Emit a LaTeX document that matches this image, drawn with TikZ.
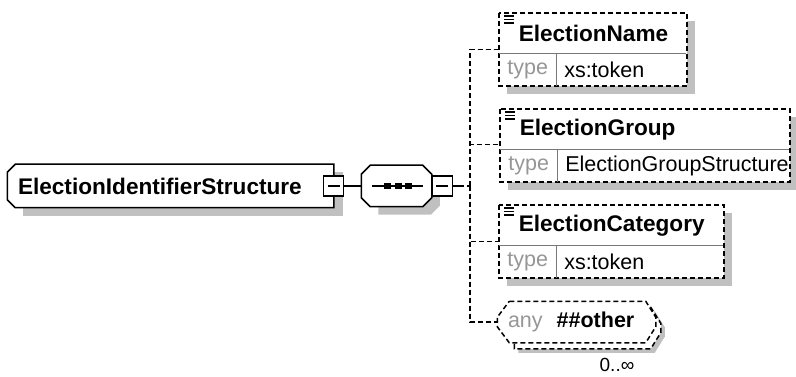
\documentclass[tikz,border=0pt]{standalone}
\usepackage{fontspec}
\setmainfont{Liberation Sans}
\usepackage{xcolor}
\definecolor{xsshade}{RGB}{192,192,192}
\definecolor{xsgray}{RGB}{150,150,150}
\definecolor{xsrule}{RGB}{120,120,120}
\usetikzlibrary{positioning, backgrounds}

\begin{document}
\begin{tikzpicture}[
    x=1pt, y=-1pt,
    line width=1.5pt,
    every node/.style={inner sep=0pt, font=\fontsize{21.5}{24}\selectfont},
    struct/.style={inner xsep=10pt, minimum height=42pt, text width=305pt, align=left, font=\fontsize{22.6}{24}\selectfont\bfseries},
    seqbox/.style={minimum width=69pt, minimum height=40pt},
    toggle/.style={draw, fill=white, minimum size=20pt, line width=1.4pt,
        path picture={\draw[line width=1.4pt] ([xshift=4pt]path picture bounding box.west) -- ([xshift=-4pt]path picture bounding box.east);}},
    elname/.style={anchor=north west, inner xsep=19pt, minimum height=39pt, align=left, font=\fontsize{22.6}{24}\selectfont\bfseries},
    typelbl/.style={anchor=north west, minimum width=56pt, minimum height=31pt, text=xsgray},
    typeval/.style={anchor=north west, inner xsep=7pt, minimum height=31pt, align=left},
    anybox/.style={inner xsep=10pt, minimum height=40pt, text width=137pt, align=left},
    occurs/.style={font=\fontsize{19}{20}\selectfont},
    shade/.style={fill=xsshade},
    outline/.style={draw, fill=white, line width=1.5pt},
    optline/.style={draw, line width=1.5pt, dash pattern=on 5pt off 3pt},
    divider/.style={draw=xsrule, line width=1.2pt},
    link/.style={draw, line width=1.5pt},
    optlink/.style={link, dash pattern=on 5pt off 3pt}
]
\useasboundingbox (0,0) rectangle (796,377);

% root complex type
\node[struct] (main) at (170.5,186) {ElectionIdentifierStructure};
\node[toggle] (mainTog) at (main.east) {};

% sequence compositor
\node[seqbox] (seq) at (396.5,186) {};
\node[toggle, right=0pt of seq] (seqTog) {};
\draw[line width=1.4pt] ([xshift=-24.5pt]seq.center) -- ([xshift=26.5pt]seq.center);
\foreach \dx in {-9,1.5,12}
    \fill ([xshift=\dx pt]seq.center) ++(-3.5,-3) rectangle ++(7,6);

% child elements
\node[elname, text width=147pt] (name) at (499,13) {ElectionName};
\node[typelbl] (nameType) at (name.south west) {type};
\node[typeval, text width=115pt] (nameVal) at (nameType.north east) {xs:token};

\node[elname, text width=249pt] (group) at (500,109) {ElectionGroup};
\node[typelbl] (groupType) at (group.south west) {type};
\node[typeval, text width=217pt] (groupVal) at (groupType.north east) {ElectionGroupStructure};

\node[elname, text width=184pt] (cat) at (499,205) {ElectionCategory};
\node[typelbl] (catType) at (cat.south west) {type};
\node[typeval, text width=152pt] (catVal) at (catType.north east) {xs:token};

% wildcard
\node[anybox] (any) at (576.5,322) {\textcolor{xsgray}{any}\hspace{14pt}\textbf{\#\#other}};
\node[occurs] (anyOcc) at (617,365) {0..∞};

\begin{scope}[on background layer]
    \fill[shade] ([xshift=16pt,yshift=-8pt]main.north west) rectangle ([xshift=9pt,yshift=-8pt]main.south east);
    \draw[outline] ([xshift=8pt]main.north west) -- (main.north east) -- (main.south east)
        -- ([xshift=8pt]main.south west) -- ([yshift=8pt]main.south west) -- ([yshift=-8pt]main.north west) -- cycle;

    \fill[shade] ([xshift=17pt,yshift=-8pt]seq.north west) -- ([xshift=-1pt,yshift=-8pt]seq.north east)
        -- ([xshift=8pt,yshift=-17pt]seq.north east) -- ([xshift=8pt,yshift=1pt]seq.south east)
        -- ([xshift=-1pt,yshift=-8pt]seq.south east) -- ([xshift=17pt,yshift=-8pt]seq.south west) -- cycle;
    \draw[outline] ([xshift=9pt]seq.north west) -- ([xshift=-9pt]seq.north east) -- ([yshift=-9pt]seq.north east)
        -- ([yshift=9pt]seq.south east) -- ([xshift=-9pt]seq.south east) -- ([xshift=9pt]seq.south west)
        -- ([yshift=9pt]seq.south west) -- ([yshift=-9pt]seq.north west) -- cycle;

    \fill[shade] ([xshift=8pt,yshift=-8pt]name.north west) rectangle ([xshift=8pt,yshift=-8pt]nameVal.south east);
    \fill[white] (name.north west) rectangle (nameVal.south east);
    \fill[shade] ([xshift=8pt,yshift=-8pt]group.north west) rectangle ([xshift=8pt,yshift=-8pt]groupVal.south east);
    \fill[white] (group.north west) rectangle (groupVal.south east);
    \fill[shade] ([xshift=8pt,yshift=-8pt]cat.north west) rectangle ([xshift=8pt,yshift=-8pt]catVal.south east);
    \fill[white] (cat.north west) rectangle (catVal.south east);

    \fill[shade] ([xshift=21pt,yshift=-10pt]any.north west) -- ([xshift=-1pt,yshift=-10pt]any.north east)
        -- ([xshift=9pt,yshift=-26pt]any.north east) -- ([xshift=9pt,yshift=6pt]any.south east)
        -- ([xshift=-1pt,yshift=-10pt]any.south east) -- ([xshift=21pt,yshift=-10pt]any.south west) -- cycle;
    \draw[optline, fill=white] ([xshift=17pt,yshift=-6pt]any.north west) -- ([xshift=-5pt,yshift=-6pt]any.north east)
        -- ([xshift=5pt,yshift=-22pt]any.north east) -- ([xshift=5pt,yshift=10pt]any.south east)
        -- ([xshift=-5pt,yshift=-6pt]any.south east) -- ([xshift=17pt,yshift=-6pt]any.south west) -- cycle;
    \draw[optline, fill=white] ([xshift=12pt]any.north west) -- ([xshift=-10pt]any.north east)
        -- ([yshift=-16pt]any.north east) -- ([yshift=16pt]any.south east) -- ([xshift=-10pt]any.south east)
        -- ([xshift=12pt]any.south west) -- ([yshift=16pt]any.south west) -- ([yshift=-16pt]any.north west) -- cycle;
\end{scope}

% element frames
\draw[optline] (name.north west) rectangle (nameVal.south east);
\draw[divider] (name.south west) -- (name.south east);
\draw[divider] (nameType.north east) -- (nameType.south east);
\draw[optline] (group.north west) rectangle (groupVal.south east);
\draw[divider] (group.south west) -- (group.south east);
\draw[divider] (groupType.north east) -- (groupType.south east);
\draw[optline] (cat.north west) rectangle (catVal.south east);
\draw[divider] (cat.south west) -- (cat.south east);
\draw[divider] (catType.north east) -- (catType.south east);
\foreach \el in {name,group,cat}
    \foreach \dy in {3,6.5,10}
        \draw[line width=1.2pt] ([xshift=5pt,yshift=-\dy pt]\el.north west) -- ++(10,0);

% connectors
\draw[link] (mainTog.east) -- (seq.west);
\draw[link] (seqTog.east) -- ++(6,0) coordinate (forkIn);
\coordinate (fork) at (470,186);
\draw[optlink] (forkIn) -- (fork);
\draw[optlink] (fork) |- ([yshift=4pt]name.south west);
\draw[optlink] (fork) |- ([yshift=5pt]group.south west);
\draw[optlink] (fork) |- ([yshift=4pt]cat.south west);
\draw[optlink] (fork) |- (any.west);
\end{tikzpicture}
\end{document}
